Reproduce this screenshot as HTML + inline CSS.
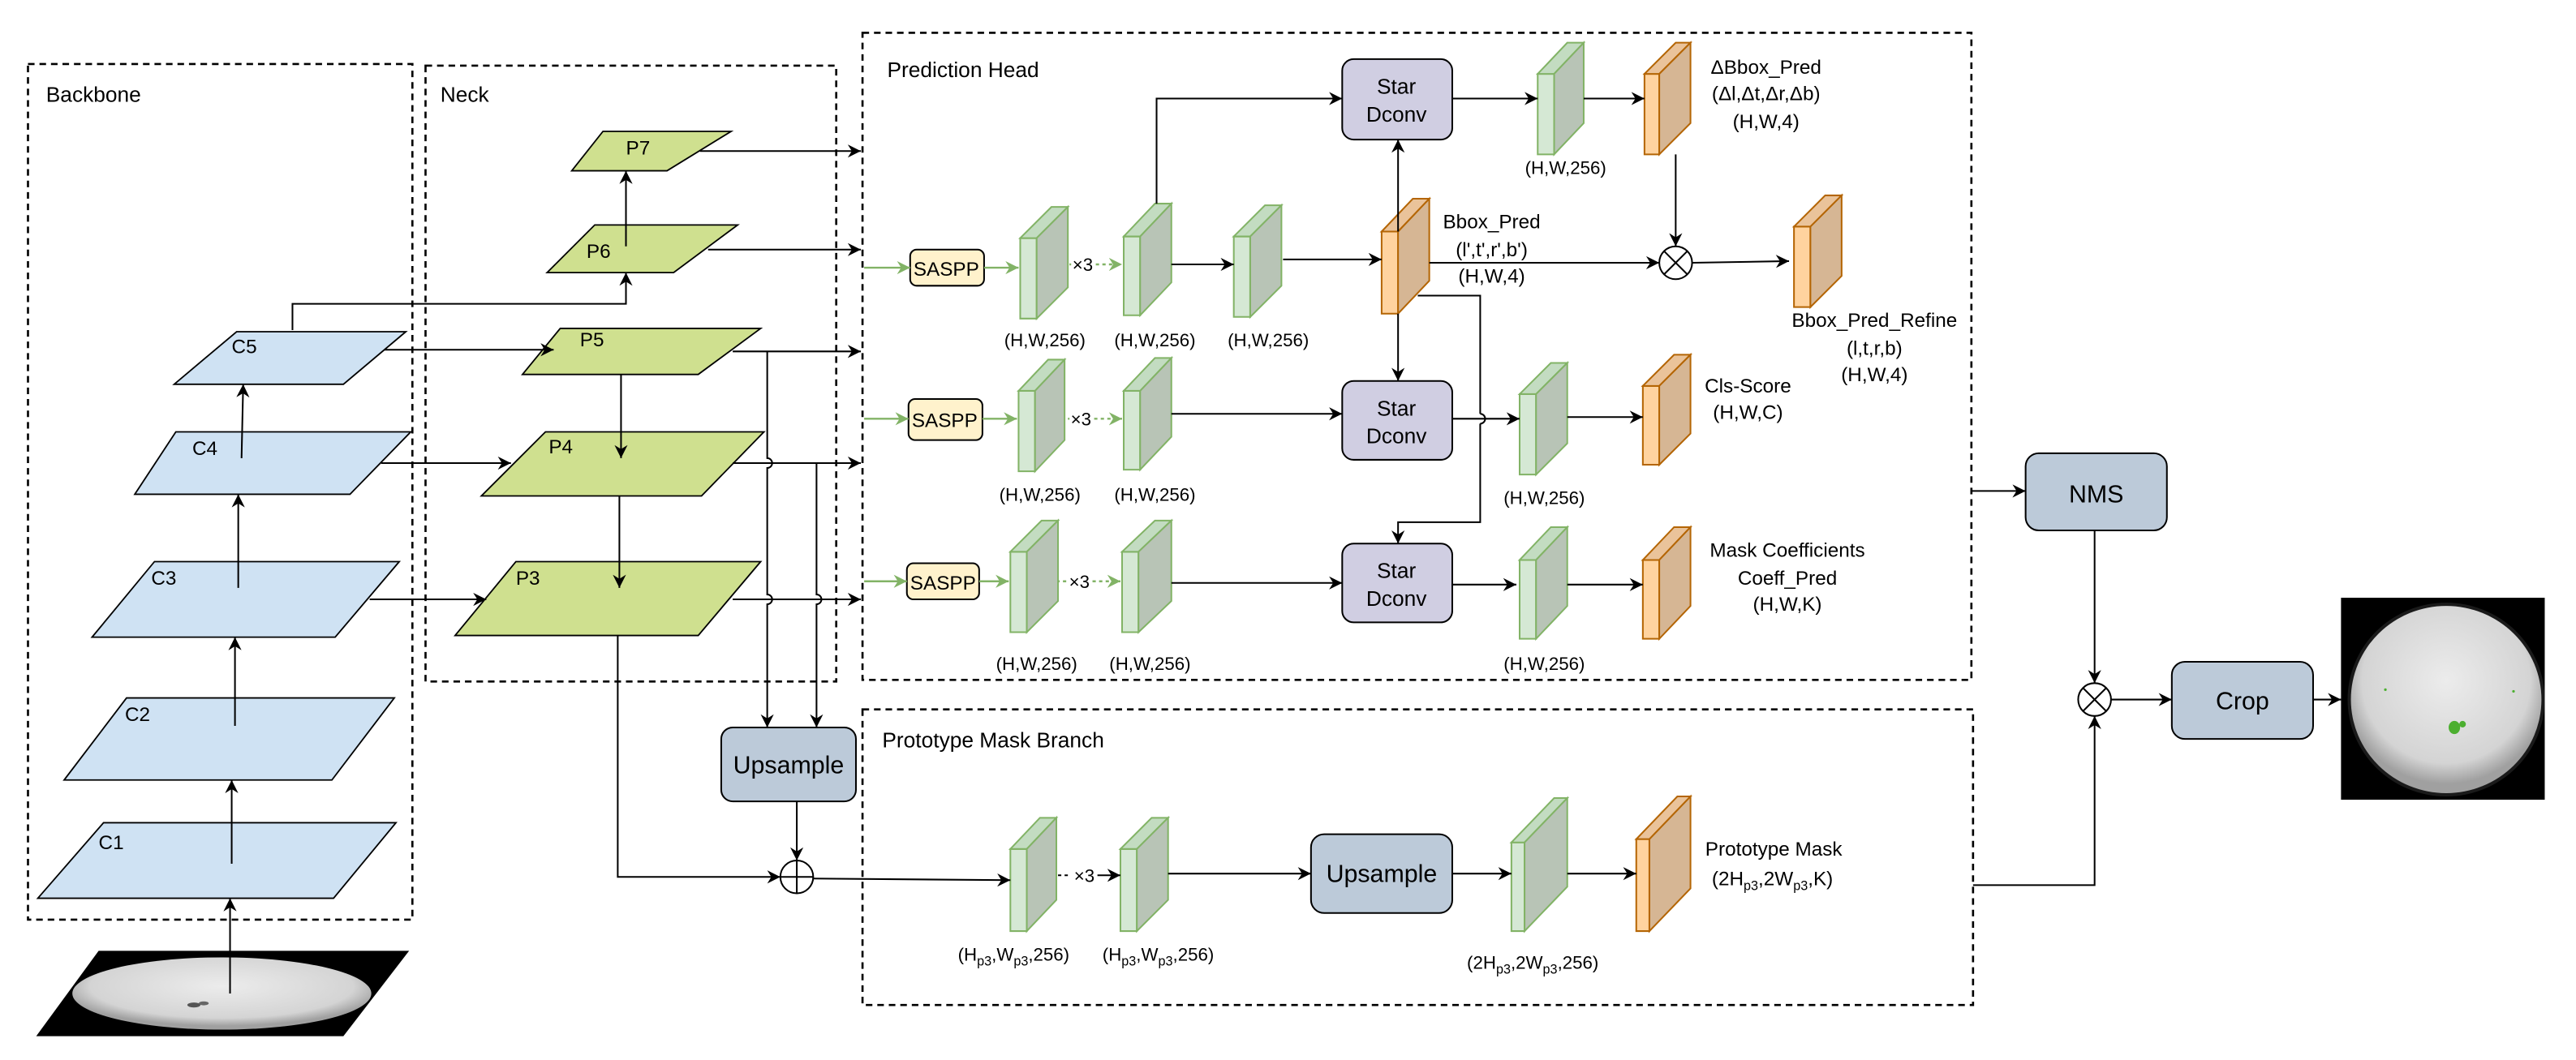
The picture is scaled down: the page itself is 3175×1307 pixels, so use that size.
<!DOCTYPE html>
<html><head><meta charset="utf-8"><style>
html,body{margin:0;padding:0;background:#fff;}
svg{display:block;}
text{font-family:"Liberation Sans",Arial,sans-serif;fill:#000;}
.g polygon{stroke:#82b366;stroke-width:1;}
.o polygon{stroke:#b46504;stroke-width:1;}
.gf{fill:#d5e8d4}.gt{fill:#c3dcc1}.gs{fill:#b8c4b6}
.of{fill:#ffd39f}.ot{fill:#eac39a}.os{fill:#d6b694}
.ln{stroke:#000;stroke-width:1;fill:none;}
.dash{stroke:#000;stroke-width:1.3;fill:none;stroke-dasharray:4 3;}
.bb{fill:#cfe2f3;stroke:#000;stroke-width:0.9;}
.nk{fill:#cfe08f;stroke:#000;stroke-width:0.9;}
</style></head><body>
<svg width="3175" height="1307" viewBox="0 0 1568 645.5" xmlns="http://www.w3.org/2000/svg">
<defs>
<marker id="a" markerWidth="8" markerHeight="8" refX="8" refY="4" orient="auto" markerUnits="userSpaceOnUse"><path d="M0,0 L8,4 L0,8 L2.5,4 z" fill="#000"/></marker>
<marker id="ag" markerWidth="8" markerHeight="8" refX="8" refY="4" orient="auto" markerUnits="userSpaceOnUse"><path d="M0,0 L8,4 L0,8 L2.5,4 z" fill="#82b366"/></marker>
<radialGradient id="sun" cx="50%" cy="40%" r="55%"><stop offset="0" stop-color="#ececec"/><stop offset="0.8" stop-color="#d4d4d4"/><stop offset="1" stop-color="#a0a0a0"/></radialGradient>
</defs>
<rect width="1568" height="645.5" fill="#fff"/>

<rect class="dash" x="17" y="39" width="234" height="521"/>
<rect class="dash" x="259" y="40" width="250" height="375"/>
<rect class="dash" x="525" y="20" width="675" height="394"/>
<rect class="dash" x="525" y="432" width="676" height="180"/>
<text x="28" y="62" font-size="13">Backbone</text>
<text x="268" y="62" font-size="13">Neck</text>
<text x="540" y="47" font-size="13">Prediction Head</text>
<text x="537" y="455" font-size="13">Prototype Mask Branch</text>

<polygon points="60,579 249,579 209,631 22,631" fill="#000"/>
<ellipse cx="135" cy="605" rx="91" ry="22" fill="url(#sun)"/>
<ellipse cx="118" cy="612" rx="4" ry="1.5" fill="#555"/>
<ellipse cx="124" cy="611" rx="3" ry="1.2" fill="#666"/>

<polygon class="bb" points="63,501 241,501 203,547 23,547"/>
<polygon class="bb" points="77,425 240,425 202,475 39,475"/>
<polygon class="bb" points="94,342 243,342 204,388 56,388"/>
<polygon class="bb" points="107,263 250,263 213,301 82,301"/>
<polygon class="bb" points="144,202 247,202 209,234 106,234"/>
<text x="60" y="517" font-size="12">C1</text>
<text x="76" y="439" font-size="12">C2</text>
<text x="92" y="356" font-size="12">C3</text>
<text x="117" y="277" font-size="12">C4</text>
<text x="141" y="215" font-size="12">C5</text>
<line class="ln" x1="140" y1="605" x2="140" y2="547" marker-end="url(#a)"/>
<line class="ln" x1="141" y1="526" x2="141" y2="475" marker-end="url(#a)"/>
<line class="ln" x1="143" y1="442" x2="143" y2="388" marker-end="url(#a)"/>
<line class="ln" x1="145" y1="358" x2="145" y2="301" marker-end="url(#a)"/>
<line class="ln" x1="147" y1="279" x2="148" y2="234" marker-end="url(#a)"/>

<polygon class="nk" points="367,80 445,80 406,104 348,104"/>
<polygon class="nk" points="362,137 449,137 410,166 333,166"/>
<polygon class="nk" points="341,200 463,200 425,228 318,228"/>
<polygon class="nk" points="332,263 465,263 427,302 293,302"/>
<polygon class="nk" points="314,342 463,342 425,387 277,387"/>
<text x="381" y="94" font-size="12">P7</text>
<text x="357" y="157" font-size="12">P6</text>
<text x="353" y="211" font-size="12">P5</text>
<text x="334" y="276" font-size="12">P4</text>
<text x="314" y="356" font-size="12">P3</text>

<line class="ln" x1="234" y1="213" x2="337" y2="213" marker-end="url(#a)"/>
<line class="ln" x1="232" y1="282" x2="311" y2="282" marker-end="url(#a)"/>
<line class="ln" x1="225" y1="365" x2="296" y2="365" marker-end="url(#a)"/>
<polyline class="ln" points="178,201 178,185 381,185 381,166" marker-end="url(#a)"/>
<line class="ln" x1="381" y1="150" x2="381" y2="104" marker-end="url(#a)"/>
<line class="ln" x1="378" y1="228" x2="378" y2="279" marker-end="url(#a)"/>
<line class="ln" x1="377" y1="302" x2="377" y2="358" marker-end="url(#a)"/>

<line class="ln" x1="426" y1="92" x2="524" y2="92" marker-end="url(#a)"/>
<line class="ln" x1="431" y1="152" x2="524" y2="152" marker-end="url(#a)"/>
<line class="ln" x1="446" y1="214" x2="524" y2="214" marker-end="url(#a)"/>
<line class="ln" x1="446" y1="282" x2="524" y2="282" marker-end="url(#a)"/>
<line class="ln" x1="446" y1="365" x2="524" y2="365" marker-end="url(#a)"/>
<path class="ln" d="M467,214 V279 A3,3 0 0 1 467,285 V362 A3,3 0 0 1 467,368 V443" marker-end="url(#a)"/>
<path class="ln" d="M497,282 V362 A3,3 0 0 1 497,368 V443" marker-end="url(#a)"/>

<rect x="439" y="443" width="82" height="45" rx="7" fill="#bccad9" stroke="#000" stroke-width="1"/>
<text x="480" y="471" font-size="15" text-anchor="middle">Upsample</text>
<line class="ln" x1="485" y1="488" x2="485" y2="524" marker-end="url(#a)"/>
<polyline class="ln" points="376,387 376,534 475,534" marker-end="url(#a)"/>
<circle cx="485" cy="534" r="10" fill="#fff" stroke="#000" stroke-width="1"/>
<line class="ln" x1="475" y1="534" x2="495" y2="534"/><line class="ln" x1="485" y1="524" x2="485" y2="544"/>

<g fill="#fff2cc" stroke="#000" stroke-width="1">
<rect x="554" y="152" width="45" height="22" rx="4"/>
<rect x="553" y="243" width="45" height="25" rx="4"/>
<rect x="552" y="343" width="44" height="22" rx="4"/>
</g>
<text x="576" y="168" font-size="12" text-anchor="middle">SASPP</text>
<text x="575" y="260" font-size="12" text-anchor="middle">SASPP</text>
<text x="574" y="359" font-size="12" text-anchor="middle">SASPP</text>
<g stroke="#82b366" stroke-width="1.2">
<line x1="526" y1="163" x2="554" y2="163" marker-end="url(#ag)"/>
<line x1="599" y1="163" x2="620" y2="163" marker-end="url(#ag)"/>
<line x1="526" y1="255" x2="553" y2="255" marker-end="url(#ag)"/>
<line x1="598" y1="255" x2="619" y2="255" marker-end="url(#ag)"/>
<line x1="526" y1="354" x2="552" y2="354" marker-end="url(#ag)"/>
<line x1="596" y1="354" x2="614" y2="354" marker-end="url(#ag)"/>
<line x1="643" y1="161" x2="652" y2="161" stroke-dasharray="2 2"/>
<line x1="667" y1="161" x2="683" y2="161" stroke-dasharray="2 2" marker-end="url(#ag)"/>
<line x1="642" y1="255" x2="651" y2="255" stroke-dasharray="2 2"/>
<line x1="666" y1="255" x2="683" y2="255" stroke-dasharray="2 2" marker-end="url(#ag)"/>
<line x1="639" y1="354" x2="650" y2="354" stroke-dasharray="2 2"/>
<line x1="665" y1="354" x2="682" y2="354" stroke-dasharray="2 2" marker-end="url(#ag)"/>
</g>
<text x="659" y="165" font-size="11" text-anchor="middle">×3</text>
<text x="658" y="259" font-size="11" text-anchor="middle">×3</text>
<text x="657" y="358" font-size="11" text-anchor="middle">×3</text>

<g class="g">
<polygon class="gf" points="621,145 631,145 631,194 621,194"/><polygon class="gt" points="621,145 640,126 650,126 631,145"/><polygon class="gs" points="631,145 650,126 650,175 631,194"/>
<polygon class="gf" points="684,144 694,144 694,192 684,192"/><polygon class="gt" points="684,144 703,124 713,124 694,144"/><polygon class="gs" points="694,144 713,124 713,172 694,192"/>
<polygon class="gf" points="751,144 761,144 761,193 751,193"/><polygon class="gt" points="751,144 770,125 780,125 761,144"/><polygon class="gs" points="761,144 780,125 780,174 761,193"/>
<polygon class="gf" points="936,45 946,45 946,94 936,94"/><polygon class="gt" points="936,45 954,26 964,26 946,45"/><polygon class="gs" points="946,45 964,26 964,75 946,94"/>
<polygon class="gf" points="620,238 630,238 630,287 620,287"/><polygon class="gt" points="620,238 638,219 648,219 630,238"/><polygon class="gs" points="630,238 648,219 648,268 630,287"/>
<polygon class="gf" points="684,238 694,238 694,286 684,286"/><polygon class="gt" points="684,238 703,218 713,218 694,238"/><polygon class="gs" points="694,238 713,218 713,266 694,286"/>
<polygon class="gf" points="925,240 935,240 935,289 925,289"/><polygon class="gt" points="925,240 944,221 954,221 935,240"/><polygon class="gs" points="935,240 954,221 954,270 935,289"/>
<polygon class="gf" points="615,336 625,336 625,385 615,385"/><polygon class="gt" points="615,336 634,317 644,317 625,336"/><polygon class="gs" points="625,336 644,317 644,366 625,385"/>
<polygon class="gf" points="683,336 693,336 693,385 683,385"/><polygon class="gt" points="683,336 703,317 713,317 693,336"/><polygon class="gs" points="693,336 713,317 713,366 693,385"/>
<polygon class="gf" points="925,341 935,341 935,389 925,389"/><polygon class="gt" points="925,341 944,321 954,321 935,341"/><polygon class="gs" points="935,341 954,321 954,369 935,389"/>
<polygon class="gf" points="615,517 625,517 625,567 615,567"/><polygon class="gt" points="615,517 633,498 643,498 625,517"/><polygon class="gs" points="625,517 643,498 643,548 625,567"/>
<polygon class="gf" points="682,517 692,517 692,567 682,567"/><polygon class="gt" points="682,517 701,498 711,498 692,517"/><polygon class="gs" points="692,517 711,498 711,548 692,567"/>
<polygon class="gf" points="920,513 928,513 928,567 920,567"/><polygon class="gt" points="920,513 946,486 954,486 928,513"/><polygon class="gs" points="928,513 954,486 954,540 928,567"/>
</g>
<g class="o">
<polygon class="of" points="841,141 851,141 851,191 841,191"/><polygon class="ot" points="841,141 860,121 870,121 851,141"/><polygon class="os" points="851,141 870,121 870,171 851,191"/>
<polygon class="of" points="1092,138 1102,138 1102,187 1092,187"/><polygon class="ot" points="1092,138 1111,119 1121,119 1102,138"/><polygon class="os" points="1102,138 1121,119 1121,168 1102,187"/>
<polygon class="of" points="1001,45 1010,45 1010,94 1001,94"/><polygon class="ot" points="1001,45 1020,26 1029,26 1010,45"/><polygon class="os" points="1010,45 1029,26 1029,75 1010,94"/>
<polygon class="of" points="1000,235 1010,235 1010,283 1000,283"/><polygon class="ot" points="1000,235 1019,216 1029,216 1010,235"/><polygon class="os" points="1010,235 1029,216 1029,264 1010,283"/>
<polygon class="of" points="1000,341 1010,341 1010,389 1000,389"/><polygon class="ot" points="1000,341 1019,321 1029,321 1010,341"/><polygon class="os" points="1010,341 1029,321 1029,369 1010,389"/>
<polygon class="of" points="996,511 1004,511 1004,567 996,567"/><polygon class="ot" points="996,511 1021,485 1029,485 1004,511"/><polygon class="os" points="1004,511 1029,485 1029,541 1004,567"/>
</g>

<g fill="#d0cee2" stroke="#000" stroke-width="1">
<rect x="817" y="36" width="67" height="49" rx="7"/>
<rect x="817" y="232" width="67" height="48" rx="7"/>
<rect x="817" y="331" width="67" height="48" rx="7"/>
</g>
<g font-size="13" text-anchor="middle">
<text x="850" y="57">Star</text><text x="850" y="74">Dconv</text>
<text x="850" y="253">Star</text><text x="850" y="270">Dconv</text>
<text x="850" y="352">Star</text><text x="850" y="369">Dconv</text>
</g>

<polyline class="ln" points="704,124 704,60 817,60" marker-end="url(#a)"/>
<line class="ln" x1="713" y1="161" x2="751" y2="161" marker-end="url(#a)"/>
<line class="ln" x1="781" y1="158" x2="841" y2="158" marker-end="url(#a)"/>
<line class="ln" x1="851" y1="141" x2="851" y2="85" marker-end="url(#a)"/>
<line class="ln" x1="851" y1="191" x2="851" y2="232" marker-end="url(#a)"/>
<line class="ln" x1="884" y1="60" x2="936" y2="60" marker-end="url(#a)"/>
<line class="ln" x1="964" y1="60" x2="1001" y2="60" marker-end="url(#a)"/>
<line class="ln" x1="1020" y1="94" x2="1020" y2="150" marker-end="url(#a)"/>
<line class="ln" x1="870" y1="160" x2="1010" y2="160" marker-end="url(#a)"/>
<circle cx="1020" cy="160" r="10" fill="#fff" stroke="#000" stroke-width="1"/>
<line class="ln" x1="1013" y1="153" x2="1027" y2="167"/><line class="ln" x1="1027" y1="153" x2="1013" y2="167"/>
<line class="ln" x1="1030" y1="160" x2="1089" y2="159" marker-end="url(#a)"/>
<polyline class="ln" points="863,180 901,180 901,252"/>
<path class="ln" d="M901,252 A3,3 0 0 1 901,258"/>
<polyline class="ln" points="901,258 901,318 851,318 851,331" marker-end="url(#a)"/>
<line class="ln" x1="713" y1="252" x2="817" y2="252" marker-end="url(#a)"/>
<line class="ln" x1="884" y1="255" x2="925" y2="255" marker-end="url(#a)"/>
<line class="ln" x1="954" y1="254" x2="1000" y2="254" marker-end="url(#a)"/>
<line class="ln" x1="713" y1="355" x2="817" y2="355" marker-end="url(#a)"/>
<line class="ln" x1="884" y1="356" x2="923" y2="356" marker-end="url(#a)"/>
<line class="ln" x1="954" y1="356" x2="1000" y2="356" marker-end="url(#a)"/>

<g font-size="11" text-anchor="middle">
<text x="636" y="211">(H,W,256)</text><text x="703" y="211">(H,W,256)</text><text x="772" y="211">(H,W,256)</text>
<text x="953" y="106">(H,W,256)</text>
<text x="633" y="305">(H,W,256)</text><text x="703" y="305">(H,W,256)</text><text x="940" y="307">(H,W,256)</text>
<text x="631" y="408">(H,W,256)</text><text x="700" y="408">(H,W,256)</text><text x="940" y="408">(H,W,256)</text>
<text x="908" y="139" font-size="12">Bbox_Pred</text><text x="908" y="156" font-size="12">(l',t',r',b')</text><text x="908" y="172" font-size="12">(H,W,4)</text>
<text x="1075" y="45" font-size="12">ΔBbox_Pred</text><text x="1075" y="61" font-size="12">(Δl,Δt,Δr,Δb)</text><text x="1075" y="78" font-size="12">(H,W,4)</text>
<text x="1141" y="199" font-size="12">Bbox_Pred_Refine</text><text x="1141" y="216" font-size="12">(l,t,r,b)</text><text x="1141" y="232" font-size="12">(H,W,4)</text>
<text x="1064" y="239" font-size="12">Cls-Score</text><text x="1064" y="255" font-size="12">(H,W,C)</text>
<text x="1088" y="339" font-size="12">Mask Coefficients</text><text x="1088" y="356" font-size="12">Coeff_Pred</text><text x="1088" y="372" font-size="12">(H,W,K)</text>
</g>

<line class="ln" x1="495" y1="535" x2="615" y2="536" marker-end="url(#a)"/>
<line x1="644" y1="533" x2="652" y2="533" stroke="#000" stroke-dasharray="2 2"/>
<line class="ln" x1="668" y1="533" x2="682" y2="533" marker-end="url(#a)"/>
<text x="660" y="537" font-size="11" text-anchor="middle">×3</text>
<line class="ln" x1="711" y1="532" x2="798" y2="532" marker-end="url(#a)"/>
<rect x="798" y="508" width="86" height="48" rx="8" fill="#bccad9" stroke="#000" stroke-width="1"/>
<text x="841" y="537" font-size="15" text-anchor="middle">Upsample</text>
<line class="ln" x1="884" y1="532" x2="920" y2="532" marker-end="url(#a)"/>
<line class="ln" x1="954" y1="532" x2="996" y2="532" marker-end="url(#a)"/>
<text x="1038" y="521" font-size="12">Prototype Mask</text>
<text x="1042" y="539" font-size="12">(2H<tspan font-size="8" dy="3">p3</tspan><tspan dy="-3">,2W</tspan><tspan font-size="8" dy="3">p3</tspan><tspan dy="-3">,K)</tspan></text>
<g font-size="11" text-anchor="middle">
<text x="617" y="585">(H<tspan font-size="8" dy="3">p3</tspan><tspan dy="-3">,W</tspan><tspan font-size="8" dy="3">p3</tspan><tspan dy="-3">,256)</tspan></text>
<text x="705" y="585">(H<tspan font-size="8" dy="3">p3</tspan><tspan dy="-3">,W</tspan><tspan font-size="8" dy="3">p3</tspan><tspan dy="-3">,256)</tspan></text>
<text x="933" y="590">(2H<tspan font-size="8" dy="3">p3</tspan><tspan dy="-3">,2W</tspan><tspan font-size="8" dy="3">p3</tspan><tspan dy="-3">,256)</tspan></text>
</g>

<line class="ln" x1="1200" y1="299" x2="1233" y2="299" marker-end="url(#a)"/>
<rect x="1233" y="276" width="86" height="47" rx="8" fill="#bccad9" stroke="#000" stroke-width="1"/>
<text x="1276" y="306" font-size="15" text-anchor="middle">NMS</text>
<line class="ln" x1="1275" y1="323" x2="1275" y2="416" marker-end="url(#a)"/>
<polyline class="ln" points="1201,539 1275,539 1275,436" marker-end="url(#a)"/>
<circle cx="1275" cy="426" r="10" fill="#fff" stroke="#000" stroke-width="1"/>
<line class="ln" x1="1268" y1="419" x2="1282" y2="433"/><line class="ln" x1="1282" y1="419" x2="1268" y2="433"/>
<line class="ln" x1="1285" y1="426" x2="1322" y2="426" marker-end="url(#a)"/>
<rect x="1322" y="403" width="86" height="47" rx="8" fill="#bccad9" stroke="#000" stroke-width="1"/>
<text x="1365" y="432" font-size="15" text-anchor="middle">Crop</text>
<line class="ln" x1="1408" y1="426" x2="1425" y2="426" marker-end="url(#a)"/>
<rect x="1425" y="364" width="124" height="123" fill="#000"/>
<ellipse cx="1489" cy="426" rx="60" ry="59" fill="#1a1a1a"/>
<ellipse cx="1489" cy="426" rx="58" ry="57" fill="url(#sun)"/>
<ellipse cx="1494" cy="443" rx="3.5" ry="4" fill="#4caf30"/>
<circle cx="1499" cy="441" r="2" fill="#4caf30"/>
<circle cx="1452" cy="420" r="0.8" fill="#4caf30"/>
<circle cx="1530" cy="421" r="0.8" fill="#4caf30"/>
</svg>
</body></html>
